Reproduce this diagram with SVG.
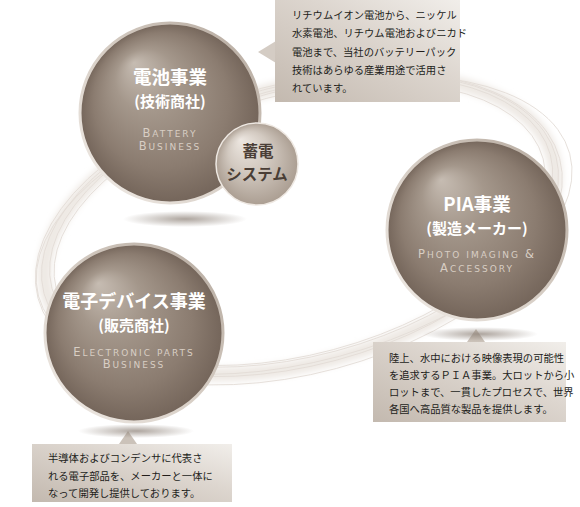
<svg xmlns="http://www.w3.org/2000/svg" width="580" height="507" viewBox="0 0 580 507">
<defs>
  <radialGradient id="sphere" cx="0.5" cy="0.5" r="0.5" fx="0.3" fy="0.22">
    <stop offset="0" stop-color="#c6bcb2"/>
    <stop offset="0.35" stop-color="#a4978b"/>
    <stop offset="0.75" stop-color="#8b7c70"/>
    <stop offset="1" stop-color="#74655a"/>
  </radialGradient>
  <radialGradient id="sphereSmall" cx="0.5" cy="0.5" r="0.5" fx="0.3" fy="0.2">
    <stop offset="0" stop-color="#ede7e1"/>
    <stop offset="0.5" stop-color="#d2c9c0"/>
    <stop offset="1" stop-color="#ab9e92"/>
  </radialGradient>
  <linearGradient id="rim" x1="0" y1="1" x2="1" y2="0">
    <stop offset="0" stop-color="#f2ede8"/>
    <stop offset="0.5" stop-color="#d6cdc4"/>
    <stop offset="1" stop-color="#b4a89d"/>
  </linearGradient>
  <linearGradient id="box" x1="0" y1="1" x2="1" y2="0">
    <stop offset="0" stop-color="#c3b9af"/>
    <stop offset="0.6" stop-color="#ddd6cf"/>
    <stop offset="1" stop-color="#f1eeea"/>
  </linearGradient>
  <radialGradient id="shadow" cx="0.5" cy="0.5" r="0.5">
    <stop offset="0" stop-color="#8a7e74" stop-opacity="0.7"/>
    <stop offset="1" stop-color="#8a7e74" stop-opacity="0"/>
  </radialGradient>
  <filter id="blur" x="-20%" y="-20%" width="140%" height="140%">
    <feGaussianBlur stdDeviation="3"/>
  </filter>
</defs>
<style>
  .title { font-family: "Noto Sans CJK JP", sans-serif; font-weight: bold; fill: #ffffff; text-anchor: middle; }
  .en { font-family: "DejaVu Sans", "Liberation Sans", sans-serif; fill: #d8cec4; text-anchor: middle; font-size: 9px; letter-spacing: 2px; }
  .en .cap { font-size: 11.5px; }
  .body { font-family: "Noto Sans CJK JP", sans-serif; font-size: 10.3px; fill: #221d1a; }
  .small { font-family: "Noto Sans CJK JP", sans-serif; font-weight: bold; fill: #4a3e36; text-anchor: middle; font-size: 15.5px; }
  .swirl { fill: none; stroke: #e2dcd6; stroke-width: 0.8; }
</style>

<rect width="580" height="507" fill="#ffffff"/>

<g id="swirl">
  <g transform="rotate(-15 300 225)">
    <ellipse cx="300" cy="225" rx="262" ry="138" fill="none" stroke="#eee9e4" stroke-width="14" filter="url(#blur)"/>
    <ellipse class="swirl" cx="300" cy="225" rx="265" ry="140"/>
    <ellipse class="swirl" cx="302" cy="222" rx="258" ry="134"/>
    <ellipse class="swirl" cx="298" cy="228" rx="270" ry="145"/>
    <ellipse class="swirl" cx="300" cy="224" rx="252" ry="130"/>
    <ellipse class="swirl" cx="304" cy="226" rx="275" ry="136"/>
  </g>
</g>

<g id="connectors">
  <polygon points="258,52 276,41 276,63" fill="#d4ccc4"/>
  <polygon points="476,329 467,342 485,342" fill="#cbc2b9"/>
  <polygon points="128,431 119,444 137,444" fill="#cbc2b9"/>
</g>

<g id="battery">
  <ellipse cx="185" cy="219" rx="62" ry="8" fill="url(#shadow)"/>
  <circle cx="170" cy="113" r="90" fill="url(#sphere)" stroke="url(#rim)" stroke-width="3"/>
  <text class="title" x="170" y="84" font-size="18.5">電池事業</text>
  <text class="title" x="170" y="107" font-size="15">(技術商社)</text>
  <text class="en" x="170" y="137"><tspan class="cap">B</tspan>ATTERY</text>
  <text class="en" x="170" y="150"><tspan class="cap">B</tspan>USINESS</text>
</g>

<g id="storage">
  <circle cx="257" cy="164" r="41" fill="url(#sphereSmall)" stroke="#eee8e2" stroke-width="1.5"/>
  <text class="small" x="258" y="157">蓄電</text>
  <text class="small" x="257" y="180">システム</text>
</g>

<g id="pia">
  <ellipse cx="480" cy="334" rx="58" ry="7" fill="url(#shadow)"/>
  <circle cx="477" cy="230" r="90" fill="url(#sphere)" stroke="url(#rim)" stroke-width="3"/>
  <text class="title" x="477" y="211" font-size="18.5">PIA事業</text>
  <text class="title" x="477" y="234" font-size="15">(製造メーカー)</text>
  <text class="en" x="477" y="258"><tspan class="cap">P</tspan>HOTO IMAGING <tspan class="cap">&amp;</tspan></text>
  <text class="en" x="477" y="272"><tspan class="cap">A</tspan>CCESSORY</text>
</g>

<g id="electronic">
  <ellipse cx="136" cy="431" rx="58" ry="7" fill="url(#shadow)"/>
  <circle cx="134" cy="333" r="89" fill="url(#sphere)" stroke="url(#rim)" stroke-width="3"/>
  <text class="title" x="134" y="308" font-size="18">電子デバイス事業</text>
  <text class="title" x="134" y="331" font-size="15">(販売商社)</text>
  <text class="en" x="134" y="356"><tspan class="cap">E</tspan>LECTRONIC PARTS</text>
  <text class="en" x="134" y="368"><tspan class="cap">B</tspan>USINESS</text>
</g>

<g id="callout-battery">
  <rect x="275" y="0" width="185" height="102" fill="url(#box)"/>
  <text class="body" x="292" y="19">リチウムイオン電池から、ニッケル</text>
  <text class="body" x="292" y="37">水素電池、リチウム電池およびニカド</text>
  <text class="body" x="292" y="56">電池まで、当社のバッテリーパック</text>
  <text class="body" x="292" y="74">技術はあらゆる産業用途で活用さ</text>
  <text class="body" x="292" y="92">れています。</text>
</g>

<g id="callout-pia">
  <rect x="373" y="342" width="193" height="80" fill="url(#box)"/>
  <text class="body" x="389" y="362">陸上、水中における映像表現の可能性</text>
  <text class="body" x="389" y="379">を追求するＰＩＡ事業。大ロットから小</text>
  <text class="body" x="389" y="396">ロットまで、一貫したプロセスで、世界</text>
  <text class="body" x="389" y="413">各国へ高品質な製品を提供します。</text>
</g>

<g id="callout-electronic">
  <rect x="32" y="444" width="200" height="58" fill="url(#box)"/>
  <text class="body" x="48" y="462">半導体およびコンデンサに代表さ</text>
  <text class="body" x="48" y="480">れる電子部品を、メーカーと一体に</text>
  <text class="body" x="48" y="497">なって開発し提供しております。</text>
</g>
</svg>
